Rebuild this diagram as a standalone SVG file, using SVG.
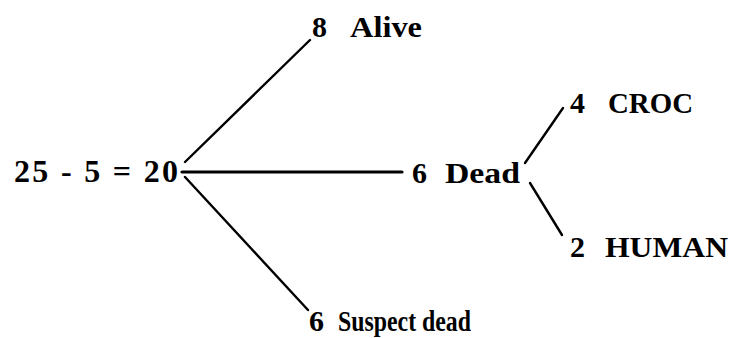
<svg xmlns="http://www.w3.org/2000/svg" width="730" height="338" viewBox="0 0 730 338">
<style>
text{font-family:'Liberation Serif','Times New Roman',Times,serif;font-weight:700;font-size:30px;fill:#000}
.c{stroke:#000;stroke-width:2.4;fill:none;stroke-linecap:round}
</style>
<rect width="730" height="338" fill="#fff"/>
<g id="connectors">
<line class="c" x1="185" y1="162" x2="310" y2="40"/>
<line class="c" x1="182" y1="172" x2="402" y2="172" style="stroke-width:3.2"/>
<line class="c" x1="185" y1="177" x2="308" y2="310"/>
<line class="c" x1="525" y1="163" x2="563" y2="108"/>
<line class="c" x1="530" y1="183" x2="562" y2="235"/>
</g>
<g id="root"><text x="14" y="182" textLength="164" lengthAdjust="spacing" style="font-size:32px">25 - 5 = 20</text></g>
<g id="alive"><text x="312" y="37">8</text><text x="350" y="37" textLength="72" lengthAdjust="spacingAndGlyphs">Alive</text></g>
<g id="dead"><text x="412" y="183">6</text><text x="445" y="183" textLength="75" lengthAdjust="spacingAndGlyphs">Dead</text></g>
<g id="suspect"><text x="309" y="331">6</text><text x="338" y="331" textLength="133" lengthAdjust="spacingAndGlyphs">Suspect dead</text></g>
<g id="croc"><text x="570" y="113">4</text><text x="608" y="113" textLength="85" lengthAdjust="spacingAndGlyphs">CROC</text></g>
<g id="human"><text x="570" y="257">2</text><text x="605" y="257" textLength="123" lengthAdjust="spacingAndGlyphs">HUMAN</text></g>
</svg>
